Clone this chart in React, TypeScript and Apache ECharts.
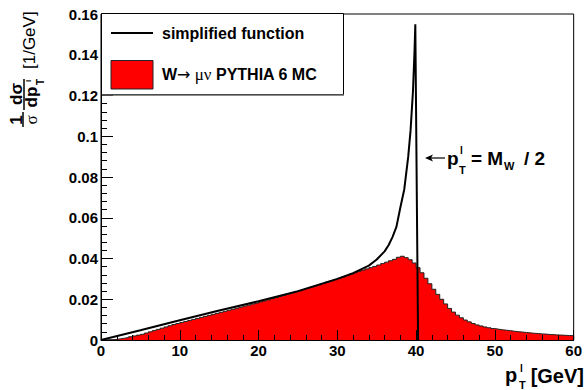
import React, { useEffect, useRef } from "react";
import * as echarts from "echarts";

// Simplified (Jacobian-peak) function
const funcPt = [0, 5, 10, 15, 20, 25, 30, 32, 34, 35, 36, 36.5, 37, 37.5, 38, 38.5, 39, 39.3, 39.6, 39.8, 39.9, 40.25];
const funcVal = [0, 0.0048, 0.0097, 0.0145, 0.019, 0.024, 0.03, 0.0328, 0.0365, 0.0395, 0.0435, 0.0465, 0.0505, 0.0555, 0.065, 0.074, 0.09, 0.103, 0.122, 0.142, 0.155, 0];

// PYTHIA histogram, 0.5 GeV bins from 0 to 60 GeV
const binWidth = 0.5;
const histVal = [
  0, 0, 0.0001, 0.0003, 0.0006, 0.0009, 0.0012, 0.0016, 0.002, 0.0024,
  0.0028, 0.0034, 0.004, 0.0046, 0.0052, 0.0058, 0.0064, 0.007, 0.0076, 0.0081,
  0.0086, 0.0091, 0.0096, 0.0101, 0.0106, 0.0111, 0.0116, 0.0121, 0.0126, 0.0131,
  0.0136, 0.0141, 0.0146, 0.0151, 0.0156, 0.0161, 0.0166, 0.0171, 0.0176, 0.0181,
  0.0187, 0.0192, 0.0197, 0.0203, 0.0208, 0.0214, 0.0219, 0.0225, 0.023, 0.0236,
  0.0241, 0.0247, 0.0253, 0.0259, 0.0265, 0.0271, 0.0277, 0.0284, 0.029, 0.0296,
  0.0302, 0.0309, 0.0316, 0.0323, 0.033, 0.0337, 0.0343, 0.0349, 0.0355, 0.0361,
  0.0368, 0.0375, 0.0382, 0.0389, 0.0396, 0.0406, 0.0411, 0.0404, 0.0394, 0.0378,
  0.0355, 0.033, 0.0303, 0.0276, 0.0249, 0.0224, 0.02, 0.0177, 0.0155, 0.0137,
  0.0122, 0.0109, 0.0098, 0.0089, 0.0081, 0.0074, 0.0069, 0.0064, 0.006, 0.0056,
  0.0053, 0.005, 0.0048, 0.0046, 0.0043, 0.0041, 0.0039, 0.0037, 0.0035, 0.0033,
  0.0032, 0.003, 0.0029, 0.0027, 0.0026, 0.0025, 0.0024, 0.0023, 0.0022, 0.0021,
];

const xMin = 0, xMax = 60, xStep = 10;
const yMin = 0, yMax = 0.16, yStep = 0.02;

const legendFunc = "simplified function";
const legendMC = ["W", "\u2192", " \u03bc\u03bd", " PYTHIA 6 MC"];

const SANS = "'Liberation Sans', Arial, Helvetica, sans-serif";
const SERIF = "'Liberation Serif', 'DejaVu Serif', serif";

export default function App() {
  const ref = useRef<HTMLDivElement>(null);
  useEffect(() => {
    document.body.style.margin = "0";
    const chart = echarts.init(ref.current!, null, { renderer: "svg" });

    const histData: [number, number][] = histVal.map((v, i) => [i * binWidth, v]);
    histData.push([xMax, histVal[histVal.length - 1]]);
    histData.push([xMax, 0]);
    const funcData = funcPt.map((x, i) => [x, funcVal[i]]);

    const bold = (s: number) => ({ fontFamily: SANS, fontWeight: "bold" as const, fontSize: s, fill: "#000" });
    const R = Math.PI / 2;
    const rt = (x: number, y: number, style: any) => ({
      type: "text", x, y, rotation: R, z: 11,
      style: { align: "center", verticalAlign: "middle", ...style },
    });

    const yTitle = [
      rt(16, 120, { ...bold(17), text: "1" }),
      { type: "line", shape: { x1: 23, y1: 112, x2: 23, y2: 127 }, style: { stroke: "#000", lineWidth: 1.5 }, z: 11 },
      rt(31, 120, { fontFamily: SERIF, fontSize: 17, fill: "#000", text: "\u03c3" }),
      rt(16, 94, { ...bold(17), text: "d\u03c3" }),
      { type: "line", shape: { x1: 24, y1: 79, x2: 24, y2: 110 }, style: { stroke: "#000", lineWidth: 1.5 }, z: 11 },
      rt(31, 97, { ...bold(17), text: "dp" }),
      rt(40, 82, { ...bold(10), text: "T" }),
      rt(28, 81, { ...bold(8), text: "l" }),
      rt(29, 69, { fontFamily: SANS, fontSize: 17, fill: "#000", text: "[1/GeV]", align: "left" }),
    ];

    const option = {
      animation: false,
      grid: { left: 101, right: 3, top: 14, bottom: 50, show: true, borderColor: "#000", borderWidth: 1, backgroundColor: "transparent" },
      xAxis: {
        type: "value", min: xMin, max: xMax, interval: xStep, z: 5,
        axisLine: { onZero: false, lineStyle: { color: "#000", width: 1 } },
        axisTick: { inside: true, length: 10, lineStyle: { color: "#000" } },
        minorTick: { show: true, splitNumber: 5, length: 5, lineStyle: { color: "#000" } },
        splitLine: { show: false },
        axisLabel: { color: "#000", fontFamily: SANS, fontWeight: "bold", fontSize: 15, margin: 3 },
      },
      yAxis: {
        type: "value", min: yMin, max: yMax, interval: yStep, z: 5,
        axisLine: { show: true, lineStyle: { color: "#000", width: 1 } },
        axisTick: { show: true, inside: true, length: 12, lineStyle: { color: "#000" } },
        minorTick: { show: true, splitNumber: 5, length: 6, lineStyle: { color: "#000" } },
        splitLine: { show: false },
        axisLabel: { color: "#000", fontFamily: SANS, fontWeight: "bold", fontSize: 15, margin: 3 },
      },
      series: [
        {
          type: "line", name: "MC", step: "end", data: histData, symbol: "none", z: 2,
          lineStyle: { color: "#222", width: 1 },
          areaStyle: { color: "#ff0000", opacity: 1 },
        },
        {
          type: "line", name: legendFunc, data: funcData, symbol: "none", z: 3,
          lineStyle: { color: "#000", width: 2 },
        },
      ],
      graphic: [
        // legend
        { type: "rect", shape: { x: 101.5, y: 13.5, width: 242, height: 81 }, style: { fill: "#fff", stroke: "#000", lineWidth: 1 }, z: 10 },
        { type: "line", shape: { x1: 102, y1: 95, x2: 344, y2: 95 }, style: { stroke: "#666", lineWidth: 1.5 }, z: 10 },
        { type: "line", shape: { x1: 111, y1: 33, x2: 153, y2: 33 }, style: { stroke: "#000", lineWidth: 2 }, z: 11 },
        { type: "text", x: 162, y: 33, style: { ...bold(16), text: legendFunc, verticalAlign: "middle" }, z: 11 },
        { type: "rect", shape: { x: 111, y: 60.5, width: 42, height: 28.5 }, style: { fill: "#ff0000", stroke: "#222", lineWidth: 1 }, z: 11 },
        {
          type: "text", x: 162, y: 74, z: 11,
          style: {
            text: `{b|${legendMC[0]}}{a|${legendMC[1]}}{g|${legendMC[2]}}{b|${legendMC[3]}}`,
            verticalAlign: "middle",
            rich: {
              b: { ...bold(16) },
              a: { fontFamily: "'DejaVu Sans', sans-serif", fontSize: 16, fill: "#000" },
              g: { fontFamily: SERIF, fontSize: 17, fill: "#000" },
            },
          },
        },
        // annotation
        { type: "line", shape: { x1: 430, y1: 158, x2: 445, y2: 158 }, style: { stroke: "#000", lineWidth: 1.2 }, z: 11 },
        { type: "polygon", shape: { points: [[425, 158], [433, 154.5], [431, 158], [433, 161.5]] }, style: { fill: "#000" }, z: 11 },
        { type: "text", x: 447, y: 158, style: { ...bold(19), text: "p", verticalAlign: "middle" }, z: 11 },
        { type: "text", x: 460, y: 150, style: { ...bold(10), text: "l", verticalAlign: "middle" }, z: 11 },
        { type: "text", x: 459, y: 170, style: { ...bold(11), text: "T", verticalAlign: "middle" }, z: 11 },
        { type: "text", x: 471, y: 158, style: { ...bold(19), text: "= M", verticalAlign: "middle" }, z: 11 },
        { type: "text", x: 504, y: 166, style: { ...bold(11), text: "W", verticalAlign: "middle" }, z: 11 },
        { type: "text", x: 524, y: 158, style: { ...bold(19), text: "/ 2", verticalAlign: "middle" }, z: 11 },
        // x-axis title
        { type: "text", x: 505, y: 375, style: { ...bold(20), text: "p", verticalAlign: "middle" }, z: 11 },
        { type: "text", x: 520, y: 368, style: { ...bold(10), text: "l", verticalAlign: "middle" }, z: 11 },
        { type: "text", x: 519, y: 385, style: { ...bold(11), text: "T", verticalAlign: "middle" }, z: 11 },
        { type: "text", x: 584, y: 376, style: { ...bold(20), text: "[GeV]", align: "right", verticalAlign: "middle" }, z: 11 },
        ...yTitle,
      ],
    };
    chart.setOption(option as any);
    return () => chart.dispose();
  }, []);
  return <div ref={ref} style={{ position: "absolute", left: 0, top: 0, width: 585, height: 390 }} />;
}
